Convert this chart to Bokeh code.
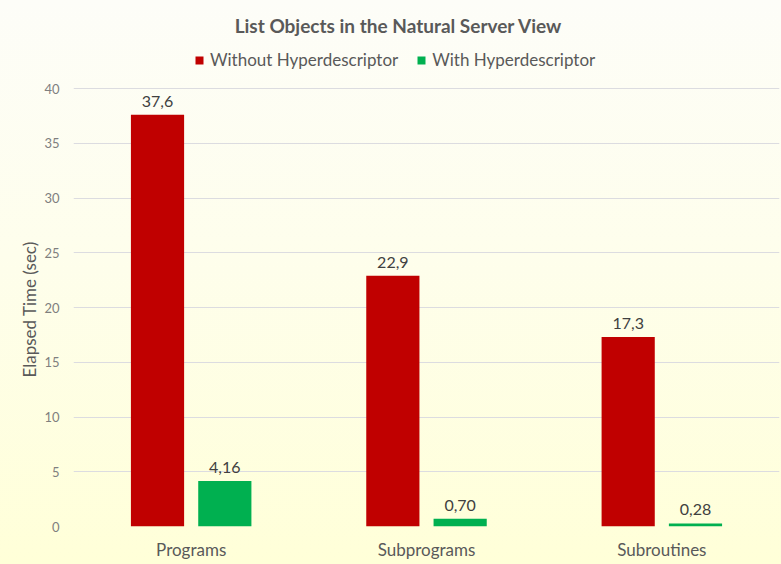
from bokeh.plotting import figure
from bokeh.models import ColumnDataSource, LabelSet, Legend, LegendItem, Label, Title
from bokeh.core.properties import value
from bokeh.transform import dodge
from bokeh.embed import file_html
from bokeh.resources import INLINE

categories = ["Programs", "Subprograms", "Subroutines"]
without_hd = [37.6, 22.9, 17.3]
with_hd = [4.16, 0.70, 0.28]
without_labels = ["37,6", "22,9", "17,3"]
with_labels = ["4,16", "0,70", "0,28"]
y_ticks = [0, 5, 10, 15, 20, 25, 30, 35, 40]

FONT = "Lato"
src = ColumnDataSource(dict(cat=categories, a=without_hd, b=with_hd,
                            la=without_labels, lb=with_labels))

p = figure(x_range=categories, y_range=(0, 48.04), width=781, height=564,
           output_backend="svg", toolbar_location=None, title=None,
           min_border_left=73, min_border_right=2, min_border_bottom=38, min_border_top=0)
p.border_fill_color = None
p.background_fill_color = None
p.styles = {"background": "linear-gradient(#FDFDF8 0%, #FEFEEC 45%, #FFFFD8 100%)"}
p.outline_line_color = None

off = 0.143
bw = 0.226
r1 = p.vbar(x=dodge("cat", -off, range=p.x_range), top="a", width=bw, source=src,
            fill_color="#C00000", line_color=None)
r2 = p.vbar(x=dodge("cat", off, range=p.x_range), top="b", width=bw, source=src,
            fill_color="#00B050", line_color=None)

la = LabelSet(x=dodge("cat", -off, range=p.x_range), y="a", text="la", source=src,
              text_align="center", text_baseline="bottom", y_offset=8,
              text_font=value(FONT), text_font_size=value("16px"), text_color="#404040")
lb = LabelSet(x=dodge("cat", off, range=p.x_range), y="b", text="lb", source=src,
              text_align="center", text_baseline="bottom", y_offset=8,
              text_font=value(FONT), text_font_size=value("16px"), text_color="#404040")
p.add_layout(la)
p.add_layout(lb)

title = Label(x=325, y=501, x_units="screen", y_units="screen",
              text="List Objects in the Natural Server View",
              text_align="center", text_baseline="middle",
              text_font=FONT, text_font_size="19px", text_font_style="bold",
              text_color="#595959")
p.add_layout(title)

ylab = Title(text="Elapsed Time (sec)", align="left", offset=149, standoff=4,
             text_font=FONT, text_font_size="17px", text_font_style="normal",
             text_color="#595959")
p.add_layout(ylab, "left")

legend = Legend(items=[LegendItem(label="Without Hyperdescriptor", renderers=[r1]),
                       LegendItem(label="With Hyperdescriptor", renderers=[r2])],
                orientation="horizontal", location=(121, 456),
                label_text_font=FONT, label_text_font_size="17px", label_text_color="#595959",
                glyph_width=10, glyph_height=10, spacing=18, label_standoff=6,
                label_height=20,
                background_fill_alpha=0, border_line_color=None, padding=0, margin=0)
p.add_layout(legend)

p.ygrid.grid_line_color = "#DCDCE0"
p.xgrid.grid_line_color = None

p.yaxis.ticker = y_ticks
p.yaxis.axis_line_color = None
p.yaxis.major_tick_line_color = None
p.yaxis.minor_tick_line_color = None
p.yaxis.major_tick_out = 0
p.yaxis.major_tick_in = 0
p.yaxis.major_label_text_font = FONT
p.yaxis.major_label_text_font_size = "13px"
p.yaxis.major_label_text_color = "#7F7F7F"
p.yaxis.major_label_standoff = 14

p.xaxis.axis_line_color = None
p.xaxis.major_tick_line_color = None
p.xaxis.major_tick_out = 0
p.xaxis.major_tick_in = 0
p.xaxis.major_label_text_font = FONT
p.xaxis.major_label_text_font_size = "17px"
p.xaxis.major_label_text_color = "#595959"
p.xaxis.major_label_standoff = 12

open("out.html", "w").write(file_html(p, INLINE))
